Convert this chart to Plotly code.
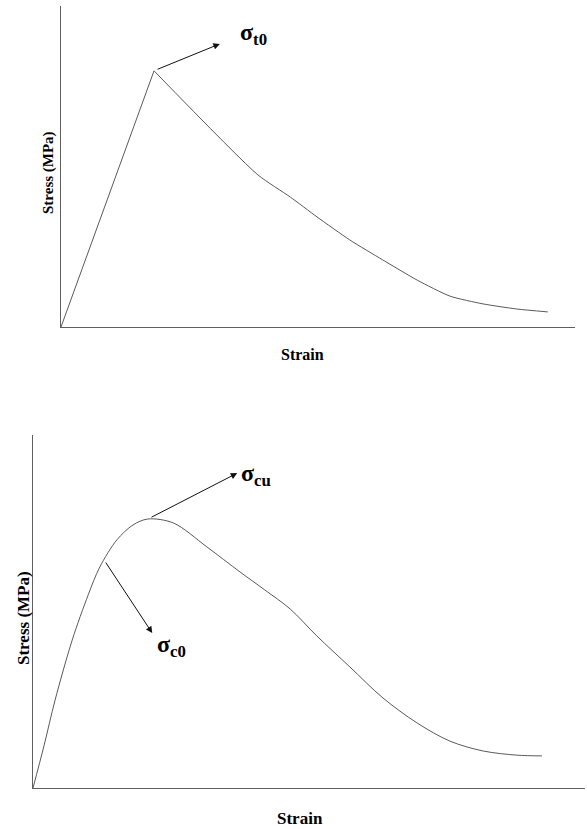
import plotly.graph_objects as go

W, H = 587, 829

# Tension curve (normalised strain / stress)
tension_strain = [0, 0.181, 0.383, 0.446, 0.498, 0.562, 0.626, 0.693, 0.757, 0.821, 0.887, 0.947]
tension_stress = [0, 0.798, 0.474, 0.405, 0.343, 0.271, 0.209, 0.146, 0.096, 0.072, 0.056, 0.047]

# Compression curve (normalised strain / stress)
comp_strain = [0, 0.020, 0.040, 0.071, 0.100, 0.121, 0.152, 0.181, 0.208, 0.254, 0.315, 0.375,
               0.420, 0.466, 0.514, 0.574, 0.634, 0.696, 0.755, 0.815, 0.877, 0.922]
comp_stress = [0, 0.120, 0.249, 0.419, 0.547, 0.626, 0.703, 0.745, 0.762, 0.751, 0.683, 0.612,
               0.561, 0.507, 0.431, 0.343, 0.255, 0.184, 0.133, 0.105, 0.093, 0.091]

x_label = "Strain"
y_label = "Stress (MPa)"

LINE = "#5a5a5a"
AXIS = "#5f5f5f"
FONT = "Liberation Serif"


def px(x):
    return x / W


def py(y):
    return 1 - y / H


t_peak = tension_stress.index(max(tension_stress))
c_peak = comp_stress.index(max(comp_stress))
c_yield = 5

fig = go.Figure()
# rising (elastic) branch of tension curve
fig.add_trace(go.Scatter(x=tension_strain[:t_peak + 1], y=tension_stress[:t_peak + 1], mode="lines",
                         line=dict(color=LINE, width=1), xaxis="x", yaxis="y",
                         showlegend=False, hoverinfo="skip"))
# softening branch of tension curve
fig.add_trace(go.Scatter(x=tension_strain[t_peak:], y=tension_stress[t_peak:], mode="lines",
                         line=dict(color=LINE, width=1, shape="spline", smoothing=0.6),
                         xaxis="x", yaxis="y", showlegend=False, hoverinfo="skip"))
fig.add_trace(go.Scatter(x=comp_strain, y=comp_stress, mode="lines",
                         line=dict(color=LINE, width=1, shape="spline", smoothing=0.9),
                         xaxis="x2", yaxis="y2", showlegend=False, hoverinfo="skip"))

ax_common = dict(showline=True, linecolor=AXIS, linewidth=1, showgrid=False, zeroline=False,
                 showticklabels=False, ticks="", range=[0, 1], fixedrange=True)

fig.update_layout(
    width=W, height=H,
    margin=dict(l=0, r=0, t=0, b=0),
    paper_bgcolor="white", plot_bgcolor="white",
    xaxis=dict(domain=[px(61), px(575)], anchor="y", **ax_common),
    yaxis=dict(domain=[py(327), py(6)], anchor="x", **ax_common),
    xaxis2=dict(domain=[px(33), px(585)], anchor="y2", **ax_common),
    yaxis2=dict(domain=[py(788), py(435)], anchor="x2", **ax_common),
)

arrow = dict(showarrow=True, arrowhead=2, arrowsize=1.3, arrowwidth=1, arrowcolor="#111",
             text="", standoff=0, startstandoff=0)

annotations = [
    # sigma_t0 arrow
    dict(xref="x", yref="y", axref="x", ayref="y",
         x=0.309, y=0.882, ax=tension_strain[t_peak] + 0.004, ay=tension_stress[t_peak] + 0.003, **arrow),
    # sigma_cu arrow
    dict(xref="x2", yref="y2", axref="x2", ayref="y2",
         x=0.370, y=0.892, ax=comp_strain[c_peak] + 0.004, ay=comp_stress[c_peak] + 0.003, **arrow),
    # sigma_c0 arrow
    dict(xref="x2", yref="y2", axref="x2", ayref="y2",
         x=0.216, y=0.439, ax=comp_strain[c_yield] + 0.009, ay=comp_stress[c_yield] + 0.017, **arrow),
    # labels
    dict(xref="paper", yref="paper", x=px(253), y=py(34), showarrow=False,
         text="<b>σ<sub>t0</sub></b>", font=dict(family=FONT, size=24, color="#000"),
         xanchor="center", yanchor="middle"),
    dict(xref="paper", yref="paper", x=px(256), y=py(475), showarrow=False,
         text="<b>σ<sub>cu</sub></b>", font=dict(family=FONT, size=24, color="#000"),
         xanchor="center", yanchor="middle"),
    dict(xref="paper", yref="paper", x=px(171), y=py(646), showarrow=False,
         text="<b>σ<sub>c0</sub></b>", font=dict(family=FONT, size=24, color="#000"),
         xanchor="center", yanchor="middle"),
    # axis titles
    dict(xref="paper", yref="paper", x=px(302), y=py(354), showarrow=False,
         text="<b>" + x_label + "</b>", font=dict(family=FONT, size=16, color="#000"),
         xanchor="center", yanchor="middle"),
    dict(xref="paper", yref="paper", x=px(48), y=py(173), showarrow=False, textangle=-90,
         text="<b>" + y_label + "</b>", font=dict(family=FONT, size=15, color="#000"),
         xanchor="center", yanchor="middle"),
    dict(xref="paper", yref="paper", x=px(300), y=py(818), showarrow=False,
         text="<b>" + x_label + "</b>", font=dict(family=FONT, size=17, color="#000"),
         xanchor="center", yanchor="middle"),
    dict(xref="paper", yref="paper", x=px(23), y=py(618), showarrow=False, textangle=-90,
         text="<b>" + y_label + "</b>", font=dict(family=FONT, size=17, color="#000"),
         xanchor="center", yanchor="middle"),
]
fig.update_layout(annotations=annotations)

fig.write_html("out.html")
